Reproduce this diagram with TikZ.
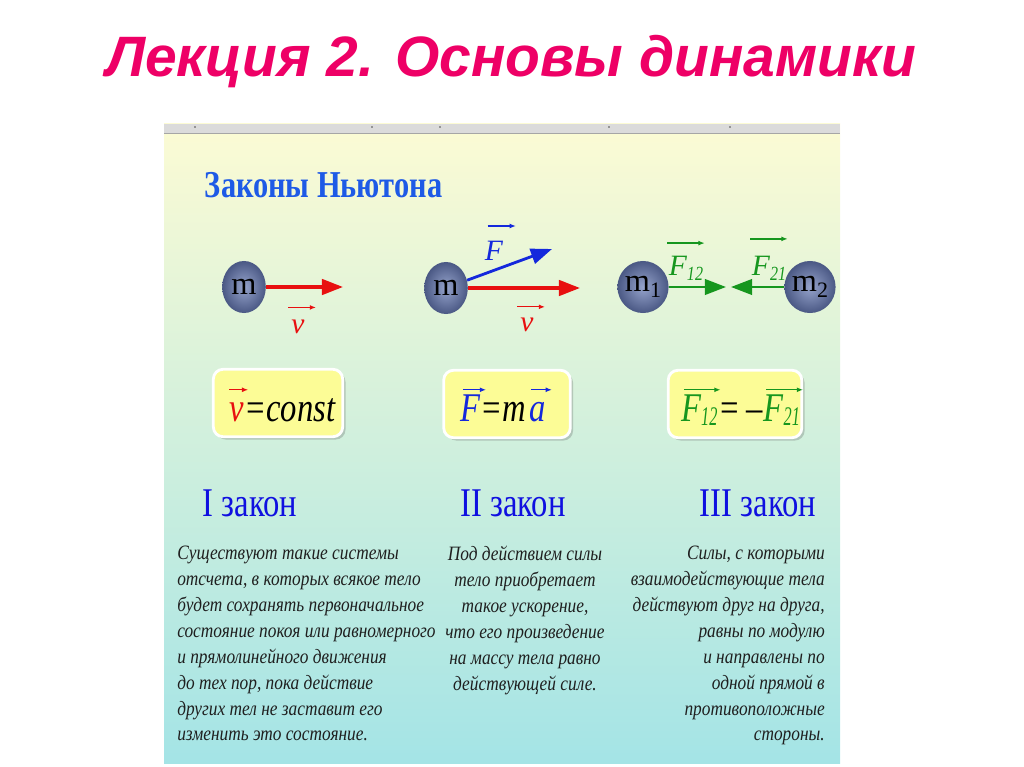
\documentclass[tikz,border=0pt]{standalone}
\usepackage{fontspec}
\usepackage{graphicx}
\setmainfont{Liberation Serif}
\newfontfamily\titlefont{Liberation Sans}
\newfontfamily\condfont[FakeStretch=0.8]{Liberation Serif}
\newfontfamily\bodyfont[FakeStretch=0.85]{Liberation Serif}
\usetikzlibrary{arrows.meta,shapes.geometric,shadows}

\definecolor{titlepink}{RGB}{238,0,102}
\definecolor{headblue}{RGB}{30,90,230}
\definecolor{lawblue}{RGB}{16,16,224}
\definecolor{vred}{RGB}{232,16,16}
\definecolor{fblue}{RGB}{20,40,220}
\definecolor{fgreen}{RGB}{22,150,30}
\definecolor{ballin}{RGB}{150,164,204}
\definecolor{ballout}{RGB}{74,88,132}
\definecolor{boxyellow}{RGB}{252,252,150}
\definecolor{bgtop}{RGB}{252,251,212}
\definecolor{bgmid}{RGB}{214,242,218}
\definecolor{bgbot}{RGB}{164,228,230}

\newcommand{\lowidx}[1]{\raisebox{-0.18em}{\scalebox{0.68}{#1}}}
\newcommand{\narrowidx}[1]{\raisebox{-0.12em}{\scalebox{0.5}[0.66]{#1}}}

\begin{document}
\begin{tikzpicture}[x=0.025cm, y=-0.025cm,
        ball/.style={ellipse, inner color=ballin, outer color=ballout, minimum width=31pt,
            minimum height=37pt, inner sep=0pt, font=\fontsize{23}{23}\selectfont},
        vecar/.style={-{Latex[length=4.5pt,width=3.5pt]}, line width=0.9pt},
        forcear/.style={-{Triangle[length=15pt,width=11pt]}, line width=2.3pt},
        lbl/.style={font=\itshape\fontsize{21}{21}\selectfont, inner sep=1pt,
            text height=14pt, text depth=4pt},
        formbox/.style={draw=white, line width=2pt, fill=boxyellow, rounded corners=7pt,
            minimum height=48pt,
            drop shadow={shadow xshift=2pt, shadow yshift=-2pt, opacity=0.3, fill=black!60}},
        ftext/.style={font=\condfont\itshape\fontsize{29}{29}\selectfont, inner sep=0pt,
            text height=20pt, text depth=6pt},
        law/.style={font=\condfont\fontsize{29}{29}\selectfont, text=lawblue},
        body/.style={font=\bodyfont\itshape\fontsize{14.5}{18.4}\selectfont, text=black!88, inner sep=0pt}]
        \useasboundingbox (0,0) rectangle (1024,767);

        % title of the slide
        \node[font=\titlefont\bfseries\itshape\fontsize{40.5}{40.5}\selectfont, text=titlepink]
            (title) at (511,62) {Лекция 2. Основы динамики};

        % panel with gray strip on top
        \shade[top color=bgtop, middle color=bgmid, bottom color=bgbot] (164,124) rectangle (840,763);
        \fill[black!14] (164,124) rectangle (840,133);
        \draw[black!35, line width=0.6pt] (164,133) -- (840,133);
        \foreach \dx in {195,372,440,609,730}
            \fill[black!70] (\dx,127) circle (0.9);

        \node[font=\condfont\bfseries\fontsize{27}{27}\selectfont, text=headblue, anchor=west]
            (head) at (200,185) {Законы Ньютона};

        % first law
        \node[ball] (mA) at (244,287) {m};
        \coordinate (tipA) at (343,287);
        \draw[forcear, vred] (mA) -- (tipA);
        \node[lbl, text=vred] (vA) at (298,326) {v};
        \draw[vecar, vred] ([xshift=-1pt,yshift=3pt]vA.north west) -- ([xshift=7pt,yshift=3pt]vA.north east);

        % second law
        \node[ball] (mB) at (446,288) {m};
        \coordinate (tipBv) at (580,288);
        \coordinate (tipBf) at (552,249);
        \draw[forcear, vred] (mB) -- (tipBv);
        \draw[forcear, fblue, line width=2pt] (mB) -- (tipBf);
        \node[lbl, text=fblue] (FB) at (494,253) {F};
        \draw[vecar, fblue] ([xshift=3pt,yshift=9pt]FB.north west) -- ([xshift=8pt,yshift=9pt]FB.north east);
        \node[lbl, text=vred] (vB) at (527,324) {v};
        \draw[vecar, vred] ([xshift=-1pt,yshift=2pt]vB.north west) -- ([xshift=7pt,yshift=2pt]vB.north east);

        % third law
        \node[ball] (mC) at (643,287) {m\lowidx{1}};
        \node[ball] (mD) at (810,287) {m\lowidx{2}};
        \coordinate (tipC) at (726,287);
        \coordinate (tipD) at (731,287);
        \draw[forcear, fgreen, line width=1.8pt] (mC) -- (tipC);
        \draw[forcear, fgreen, line width=1.8pt] (mD) -- (tipD);
        \node[lbl, text=fgreen] (FC) at (686,268) {F\lowidx{\condfont 12}};
        \draw[vecar, fgreen] ([yshift=7.5pt]FC.north west) -- ([yshift=7.5pt]FC.north east);
        \node[lbl, text=fgreen] (FD) at (769,268) {F\lowidx{\condfont 21}};
        \draw[vecar, fgreen] ([yshift=10.5pt]FD.north west) -- ([yshift=10.5pt]FD.north east);

        % formula boxes
        \node[formbox, minimum width=92pt] (boxA) at (278,403) {};
        \node[ftext, text=vred, anchor=base west] (fvA) at (229,421) {v};
        \node[ftext, anchor=base west] (fcA) at (fvA.base east) {=const};
        \draw[vecar, vred] ([yshift=2pt]fvA.north west) -- ([xshift=3pt,yshift=2pt]fvA.north east);

        \node[formbox, minimum width=90pt] (boxB) at (507,404) {};
        \node[ftext, text=fblue, anchor=base west] (fFB) at (460,421) {F};
        \node[ftext, anchor=base west] (fmB) at (fFB.base east) {=m};
        \node[ftext, text=fblue, anchor=base west] (faB) at ([xshift=2pt]fmB.base east) {a};
        \draw[vecar, fblue] ([xshift=2pt,yshift=2pt]fFB.north west) -- ([xshift=4pt,yshift=2pt]fFB.north east);
        \draw[vecar, fblue] ([xshift=1pt,yshift=2pt]faB.north west) -- ([xshift=4pt,yshift=2pt]faB.north east);

        \node[formbox, minimum width=95pt] (boxC) at (735,404) {};
        \node[ftext, text=fgreen, anchor=base west] (fFC) at (681,421) {F\narrowidx{12}};
        \node[ftext, anchor=base west] (feC) at (fFC.base east) {=\,–};
        \node[ftext, text=fgreen, anchor=base west] (fFD) at (feC.base east) {F\narrowidx{21}};
        \draw[vecar, fgreen] ([xshift=2pt,yshift=2pt]fFC.north west) -- ([xshift=2pt,yshift=2pt]fFC.north east);
        \draw[vecar, fgreen] ([xshift=2pt,yshift=2pt]fFD.north west) -- ([xshift=2pt,yshift=2pt]fFD.north east);

        % names of the laws
        \node[law] (lawA) at (250,503) {I закон};
        \node[law] (lawB) at (513,503) {II закон};
        \node[law] (lawC) at (758,503) {III закон};

        % statements
        \node[body, align=left, anchor=north west] (textA) at (177,546) {Существуют такие системы\\
            отсчета, в которых всякое тело\\ будет сохранять первоначальное\\
            состояние покоя или равномерного\\ и прямолинейного движения\\
            до тех пор, пока действие\\ других тел не заставит его\\ изменить это состояние.};
        \node[body, align=center, anchor=north] (textB) at (525,546) {Под действием силы\\
            тело приобретает\\ такое ускорение,\\ что его произведение\\
            на массу тела равно\\ действующей силе.};
        \node[body, align=right, anchor=north east] (textC) at (825,546) {Силы, с которыми\\
            взаимодействующие тела\\ действуют друг на друга,\\ равны по модулю\\
            и направлены по\\ одной прямой в\\ противоположные\\ стороны.};
    \end{tikzpicture}
\end{document}
